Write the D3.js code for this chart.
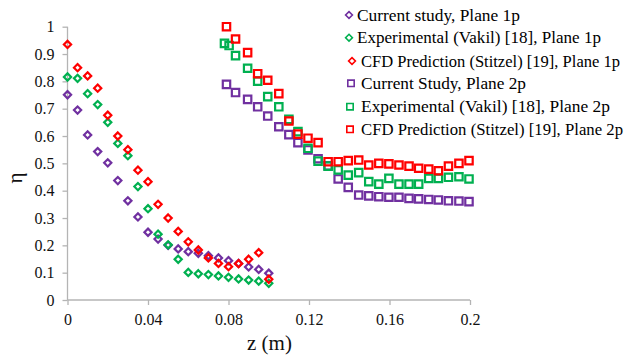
<!DOCTYPE html>
<html>
<head>
<meta charset="utf-8">
<script src="https://cdn.jsdelivr.net/npm/d3@7"></script>
<style>
  html, body { margin: 0; padding: 0; background: #fff; }
  svg { display: block; }
  svg text { font-family: "Liberation Serif", "Times New Roman", Times, serif; }
</style>
</head>
<body>
<svg id="chart" width="627" height="356"></svg>
<script>
// ---------------- data ----------------
const z1p = [0, 0.005, 0.01, 0.015, 0.02, 0.025, 0.03, 0.035, 0.04, 0.045, 0.05,
             0.055, 0.06, 0.065, 0.07, 0.075, 0.08, 0.085, 0.09, 0.095, 0.1];
const current1p = [0.751, 0.695, 0.604, 0.543, 0.502, 0.437, 0.363, 0.304, 0.248, 0.223, 0.200,
                   0.187, 0.177, 0.171, 0.162, 0.154, 0.144, 0.134, 0.121, 0.112, 0.098];
const vakil1p   = [0.816, 0.811, 0.755, 0.715, 0.650, 0.573, 0.528, 0.415, 0.334, 0.241, 0.202,
                   0.149, 0.101, 0.096, 0.093, 0.088, 0.083, 0.077, 0.073, 0.069, 0.061];
const stitzel1p = [0.935, 0.850, 0.820, 0.775, 0.676, 0.600, 0.550, 0.475, 0.433, 0.350, 0.300,
                   0.251, 0.213, 0.183, 0.154, 0.134, 0.122, 0.133, 0.149, 0.173, 0.076];

const z2p = [0.079, 0.0835, 0.0895, 0.0945, 0.0995, 0.105, 0.110, 0.1145, 0.1195, 0.1245, 0.1295,
             0.1345, 0.1395, 0.1447, 0.1497, 0.1547, 0.1597, 0.1647, 0.1697, 0.1745, 0.1795,
             0.1843, 0.1893, 0.1945, 0.1995];
const z2pVakil = [0.078, 0.0803, 0.0835, 0.0895, 0.0945, 0.0995, 0.105, 0.110, 0.1145, 0.1195, 0.1245,
                  0.1295, 0.1345, 0.1395, 0.1447, 0.1497, 0.1547, 0.1597, 0.1647, 0.1697, 0.1745,
                  0.1795, 0.1843, 0.1893, 0.1945, 0.1995];
const current2p = [0.789, 0.759, 0.734, 0.707, 0.673, 0.634, 0.605, 0.576, 0.549, 0.517, 0.491,
                   0.443, 0.412, 0.384, 0.381, 0.378, 0.376, 0.376, 0.372, 0.370, 0.368,
                   0.366, 0.363, 0.362, 0.360];
const vakil2p   = [0.939, 0.931, 0.894, 0.848, 0.801, 0.744, 0.707, 0.661, 0.616, 0.555, 0.508,
                   0.490, 0.476, 0.457, 0.466, 0.433, 0.424, 0.445, 0.424, 0.424, 0.424,
                   0.445, 0.445, 0.449, 0.451, 0.443];
const stitzel2p = [1.000, 0.955, 0.905, 0.828, 0.804, 0.755, 0.655, 0.607, 0.592, 0.576, 0.506,
                   0.506, 0.510, 0.512, 0.494, 0.500, 0.498, 0.494, 0.490, 0.482, 0.479,
                   0.473, 0.490, 0.500, 0.510];

const xTicks = [0, 0.04, 0.08, 0.12, 0.16, 0.2];
const xTickLabels = ["0", "0.04", "0.08", "0.12", "0.16", "0.2"];
const yTicks = [0, 0.1, 0.2, 0.3, 0.4, 0.5, 0.6, 0.7, 0.8, 0.9, 1];
const yTickLabels = ["0", "0.1", "0.2", "0.3", "0.4", "0.5", "0.6", "0.7", "0.8", "0.9", "1"];

const seriesNames = [
  "Current study, Plane 1p",
  "Experimental (Vakil) [18], Plane 1p",
  "CFD Prediction (Stitzel) [19], Plane 1p",
  "Current Study, Plane 2p",
  "Experimental (Vakil) [18], Plane  2p",
  "CFD Prediction (Stitzel) [19], Plane 2p"
];
const xLabel = "z (m)";
const yLabel = "η";

// ---------------- drawing ----------------
const PURPLE = "#7030A0", GREEN = "#00B050", RED = "#FF0000";
const series = [
  {x: z1p, y: current1p, color: PURPLE, shape: "diamond"},
  {x: z1p, y: vakil1p, color: GREEN, shape: "diamond"},
  {x: z1p, y: stitzel1p, color: RED, shape: "diamond"},
  {x: z2p, y: current2p, color: PURPLE, shape: "square"},
  {x: z2pVakil, y: vakil2p, color: GREEN, shape: "square"},
  {x: z2p, y: stitzel2p, color: RED, shape: "square"}
];

const FONT = '"Liberation Serif", "Times New Roman", Times, serif';
const svg = d3.select("#chart");
const x = d3.scaleLinear().domain([0, 0.2]).range([67.5, 470]);
const y = d3.scaleLinear().domain([0, 1]).range([300, 26.7]);
const AXIS = "#b4b4b4";
const LABEL = "#111";

function markerPath(shape, s) {
  if (shape === "square") return `M${-s},${-s}H${s}V${s}H${-s}Z`;
  return `M0,${-s}L${s},0L0,${s}L${-s},0Z`;
}

// axes
const gx = svg.append("g").attr("transform", `translate(0,${y(0)})`)
  .call(d3.axisBottom(x).tickValues(xTicks).tickSize(5).tickPadding(9)
        .tickFormat((d, i) => xTickLabels[i]));
const gy = svg.append("g").attr("transform", `translate(${x(0)},0)`)
  .call(d3.axisLeft(y).tickValues(yTicks).tickSize(5).tickPadding(8)
        .tickFormat((d, i) => yTickLabels[i]));
[gx, gy].forEach(g => {
  g.attr("font-family", FONT);
  g.select(".domain").attr("stroke", AXIS).attr("stroke-width", 1.3);
  g.selectAll(".tick line").attr("stroke", AXIS).attr("stroke-width", 1.3);
  g.selectAll(".tick text").attr("fill", LABEL).attr("font-family", FONT)
    .style("font-size", "16px");
});
gx.select(".domain").attr("d", `M${x(0)},0H${x(0.2)}`);
gy.select(".domain").attr("d", `M0,${y(1)}V${y(0)}`);

// axis titles
svg.append("text").attr("x", 269.5).attr("y", 350).attr("text-anchor", "middle")
  .attr("font-family", FONT).attr("fill", LABEL).style("font-size", "21px").text(xLabel);
svg.append("text").attr("transform", "translate(22,178) rotate(-90)")
  .attr("font-family", FONT).attr("text-anchor", "middle").attr("fill", LABEL)
  .style("font-size", "21px").text(yLabel);

// markers
const plot = svg.append("g");
series.forEach(sr => {
  const pts = sr.y.map((v, i) => [sr.x[i], v]);
  plot.append("g").selectAll("path").data(pts).join("path")
    .attr("transform", d => `translate(${x(d[0])},${y(d[1])})`)
    .attr("d", markerPath(sr.shape, sr.shape === "square" ? 3.7 : 3.6))
    .attr("fill", "none").attr("stroke", sr.color).attr("stroke-width", 2.2);
});

// legend (text widths pinned to the reference so nothing runs off the edge)
const legMarkX = [349, 349, 352, 351, 350, 350];
const legTextX = [357, 357, 361, 361, 361, 361];
const legTextW = [163, 244, 259, 165, 249, 262];
const legY = [15, 37.7, 61, 83.3, 106.7, 129.3];
const leg = svg.append("g");
series.forEach((sr, i) => {
  leg.append("path")
    .attr("transform", `translate(${legMarkX[i]},${legY[i]})`)
    .attr("d", markerPath(sr.shape, sr.shape === "square" ? 3.2 : 3.4))
    .attr("fill", "none").attr("stroke", sr.color).attr("stroke-width", 1.6);
  leg.append("text").attr("x", legTextX[i]).attr("y", legY[i]).attr("dy", "0.35em")
    .attr("font-family", FONT).attr("fill", "#000").style("font-size", "16.5px")
    .attr("textLength", legTextW[i]).attr("lengthAdjust", "spacingAndGlyphs")
    .text(seriesNames[i]);
});
</script>
</body>
</html>
